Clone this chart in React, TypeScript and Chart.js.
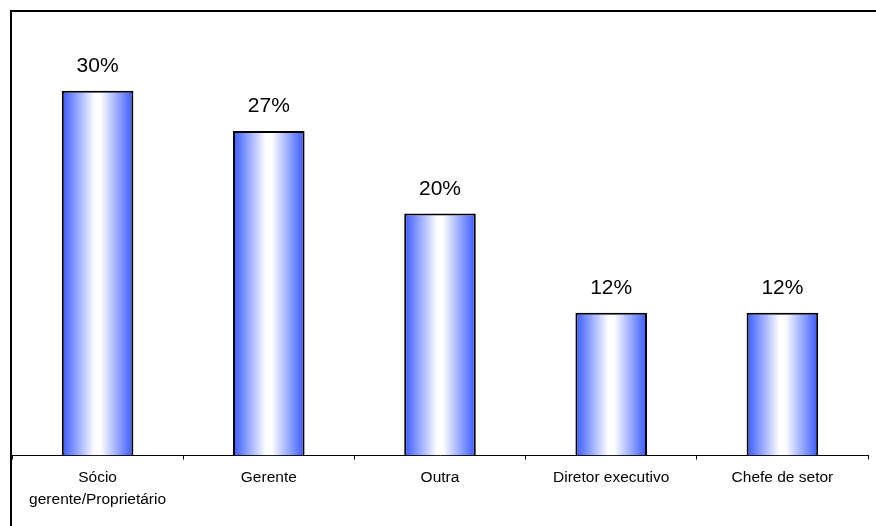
import React, { useEffect, useRef } from "react";
import { Chart, registerables } from "chart.js";

Chart.register(...registerables);

const categories: (string | string[])[] = [
  ["Sócio", "gerente/Proprietário"],
  "Gerente",
  "Outra",
  "Diretor executivo",
  "Chefe de setor",
];
const values: number[] = [30, 26.7, 19.9, 11.75, 11.75];
const valueLabels: string[] = ["30%", "27%", "20%", "12%", "12%"];

const W = 876;
const H = 526;
const BAR_PCT = 0.418;
const FONT = "'Liberation Sans', Arial, sans-serif";

const framePlugin = {
  id: "frame",
  afterDraw(chart: any) {
    const c = chart.ctx;
    c.save();
    c.strokeStyle = "#000";
    c.lineWidth = 2;
    c.beginPath();
    c.moveTo(11, H + 5);
    c.lineTo(11, 11);
    c.lineTo(W + 5, 11);
    c.stroke();
    c.restore();
  },
};

const labelPlugin = {
  id: "valueLabels",
  afterDatasetsDraw(chart: any) {
    const c = chart.ctx;
    const meta = chart.getDatasetMeta(0);
    c.save();
    c.fillStyle = "#000";
    c.font = `21px ${FONT}`;
    c.textAlign = "center";
    c.textBaseline = "alphabetic";
    meta.data.forEach((el: any, i: number) => {
      c.fillText(valueLabels[i], el.x, el.y - 19);
    });
    c.restore();
  },
};

export default function App() {
  const ref = useRef<HTMLCanvasElement | null>(null);

  useEffect(() => {
    if (!ref.current) return;
    const chart = new Chart(ref.current, {
      type: "bar",
      data: {
        labels: categories,
        datasets: [
          {
            data: values,
            backgroundColor: (ctx: any) => {
              const ch = ctx.chart;
              const xs = ch.scales?.x;
              const area = ch.chartArea;
              if (!xs || !area || ctx.type !== "data") return "#3d5eff";
              const cx = xs.getPixelForValue(ctx.dataIndex);
              const w = ((area.right - area.left) / categories.length) * BAR_PCT;
              const g = ch.ctx.createLinearGradient(cx - w / 2, 0, cx + w / 2, 0);
              g.addColorStop(0, "#3658ff");
              g.addColorStop(0.46, "#ffffff");
              g.addColorStop(0.54, "#ffffff");
              g.addColorStop(1, "#3658ff");
              return g;
            },
            borderColor: "#000",
            borderWidth: 2,
            barPercentage: BAR_PCT,
            categoryPercentage: 1,
          },
        ],
      },
      options: {
        responsive: false,
        animation: false,
        devicePixelRatio: 1,
        layout: { padding: { left: 12, right: 8, top: 30, bottom: 0 } },
        plugins: {
          legend: { display: false },
          tooltip: { enabled: false },
        },
        scales: {
          x: {
            offset: true,
            grid: {
              display: true,
              offset: true,
              drawOnChartArea: false,
              drawTicks: true,
              tickLength: 4,
              color: "#000",
            },
            border: { display: true, color: "#000", width: 1 },
            ticks: {
              color: "#000",
              padding: 7,
              maxRotation: 0,
              autoSkip: false,
              font: { family: FONT, size: 15.5, lineHeight: 1.45 },
            },
            afterFit(scale: any) {
              scale.height = 70.5;
            },
          },
          y: {
            display: false,
            min: 0,
            max: 35,
          },
        },
      },
      plugins: [framePlugin, labelPlugin],
    });
    return () => chart.destroy();
  }, []);

  return (
    <div style={{ position: "fixed", left: 0, top: 0, width: W, height: H, background: "#fff" }}>
      <canvas ref={ref} width={W} height={H} style={{ width: W, height: H, display: "block" }} />
    </div>
  );
}
